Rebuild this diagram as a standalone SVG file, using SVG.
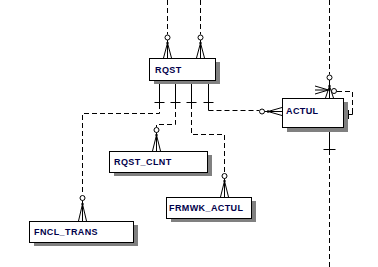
<svg xmlns="http://www.w3.org/2000/svg" width="378" height="267" viewBox="0 0 378 267">
<style>
.shadow{fill:#808080}
.box{fill:#fff;stroke:#000;stroke-width:1}
.lbl{font-family:"Liberation Sans",Arial,sans-serif;font-size:9px;font-weight:bold;letter-spacing:0.4px;fill:#00004a}
.d{fill:none;stroke:#000;stroke-width:1;stroke-dasharray:5,3}
.s{fill:none;stroke:#000;stroke-width:1}
.o{fill:#fff;stroke:#000;stroke-width:1}
.dot{fill:#000}
</style>
<rect width="378" height="267" fill="#fff"/>
<g id="connectors">
  <path class="d" d="M167.5,0V34.5"/>
  <circle class="o" cx="167.5" cy="37.5" r="2.5"/>
  <path class="s" d="M167.5,40V43M167.5,43L163.5,58M167.5,43V58M167.5,43L171.5,58"/>
  <circle class="dot" cx="167.5" cy="43" r="1.2"/>
  <path class="d" d="M200.5,0V34.5"/>
  <circle class="o" cx="200.5" cy="37.5" r="2.5"/>
  <path class="s" d="M200.5,40V43M200.5,43L196.5,58M200.5,43V58M200.5,43L204.5,58"/>
  <circle class="dot" cx="200.5" cy="43" r="1.2"/>
  <path class="s" d="M159.5,80V104M154.5,102.5H164.5"/>
  <path class="s" d="M175.5,80V104M170.5,102.5H180.5"/>
  <path class="s" d="M191.5,80V104M186.5,102.5H196.5"/>
  <path class="s" d="M208.5,80V104M203.5,102.5H213.5"/>
  <path class="d" d="M159.5,104V113.5H82.5V195"/>
  <circle class="o" cx="82.5" cy="198" r="2.5"/>
  <path class="s" d="M82.5,200.5V204M82.5,204L78.5,221M82.5,204V221M82.5,204L86.5,221"/>
  <circle class="dot" cx="82.5" cy="204" r="1.2"/>
  <path class="d" d="M175.5,104V124.5H156.5V127"/>
  <circle class="o" cx="156.5" cy="130" r="2.5"/>
  <path class="s" d="M156.5,132.5V135M156.5,135L152.5,151M156.5,135V151M156.5,135L160.5,151"/>
  <circle class="dot" cx="156.5" cy="135" r="1.2"/>
  <path class="d" d="M191.5,104V134.5H224.5V173"/>
  <circle class="o" cx="224.5" cy="176" r="2.5"/>
  <path class="s" d="M224.5,178.5V181M224.5,181L220.5,197M224.5,181V197M224.5,181L228.5,197"/>
  <circle class="dot" cx="224.5" cy="181" r="1.2"/>
  <path class="s" d="M208.5,104V110.5"/>
  <path class="d" d="M208.5,110.5H259"/>
  <circle class="o" cx="262" cy="111.5" r="2.5"/>
  <path class="s" d="M264.5,111.5H268M268,111.5L282,107.5M268,111.5H282M268,111.5L282,115.5"/>
  <circle class="dot" cx="268" cy="111.5" r="1.2"/>
  <path class="d" d="M329.5,0V74.5"/>
  <circle class="o" cx="329.5" cy="77.5" r="2.5"/>
  <path class="s" d="M329.5,80V86M329.5,86L325.5,98M329.5,86V98M329.5,86L333.5,98"/>
  <circle class="dot" cx="329.5" cy="86" r="1.2"/>
  <path class="s" d="M329.5,127V150M323.5,149.5H335.5"/>
  <path class="d" d="M329.5,150V267"/>
  <path class="s" d="M328.5,90L315,86M328.5,90L315,90M328.5,90L315,94"/>
  <circle class="o" cx="334" cy="91" r="2.5"/>
  <path class="d" d="M337,91.5H352.5V110"/>
  <path class="s" d="M352.5,110V114.5H343M348.5,110V119"/>
</g>
<g id="RQST">
  <rect class="shadow" x="154" y="62" width="66" height="22"/>
  <rect class="box" x="149.5" y="58.5" width="66" height="22"/>
  <text class="lbl" x="155" y="72.5">RQST</text>
</g>
<g id="ACTUL">
  <rect class="shadow" x="287" y="102" width="61" height="30"/>
  <rect class="box" x="282.5" y="98.5" width="61" height="29"/>
  <text class="lbl" x="286" y="114">ACTUL</text>
</g>
<g id="RQST_CLNT">
  <rect class="shadow" x="114" y="155" width="98" height="21"/>
  <rect class="box" x="109.5" y="151.5" width="98" height="21"/>
  <text class="lbl" x="114" y="164.5">RQST_CLNT</text>
</g>
<g id="FRMWK_ACTUL">
  <rect class="shadow" x="171" y="201" width="85" height="21"/>
  <rect class="box" x="166.5" y="197.5" width="85" height="21"/>
  <text class="lbl" x="169" y="211">FRMWK_ACTUL</text>
</g>
<g id="FNCL_TRANS">
  <rect class="shadow" x="34" y="225" width="104" height="21"/>
  <rect class="box" x="29.5" y="221.5" width="104" height="21"/>
  <text class="lbl" x="34" y="234.5">FNCL_TRANS</text>
</g>
</svg>
